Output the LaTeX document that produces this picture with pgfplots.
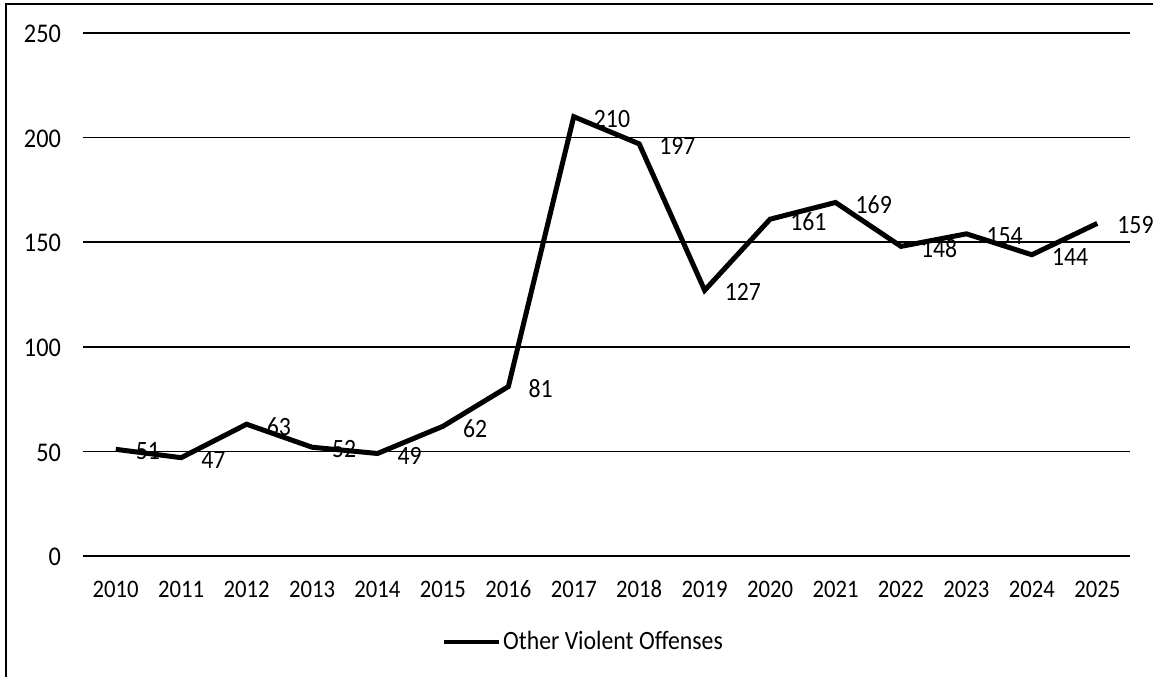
\documentclass[border=0pt]{standalone}
\usepackage{fontspec}
\setmainfont{Carlito}[FakeStretch=0.9]
\usepackage{pgfplots}
\pgfplotsset{compat=1.18}
\begin{document}
\begin{tikzpicture}
\begin{axis}[
  at={(0pt,0pt)}, anchor=south west,
  scale only axis, width=523.5pt, height=261.5pt,
  xmin=-0.5, xmax=15.5, ymin=0, ymax=250,
  ytick={0,50,100,150,200,250},
  xtick={0,...,15},
  xticklabels={2010,2011,2012,2013,2014,2015,2016,2017,2018,2019,2020,2021,2022,2023,2024,2025},
  axis line style={draw=none},
  tick style={draw=none},
  ymajorgrids,
  major grid style={black, line width=0.75pt},
  /pgf/number format/assume math mode=true,
  yticklabel style={font=\fontsize{13.5}{15}\selectfont, xshift=-7.5pt, yshift=-0.5pt},
  xticklabel style={font=\fontsize{12.6}{15}\selectfont, anchor=base, yshift=-20.5pt},
  legend style={at={(axis description cs:0.478,-0.1644)}, anchor=center, draw=none, fill=none,
    font=\fontsize{13.2}{15}\selectfont, inner sep=0pt, nodes={inner sep=1pt}},
  legend image code/.code={\draw[#1, line width=2pt] (0pt,0pt) -- (27.5pt,0pt);},
  legend cell align=left,
]
\addplot[black, line width=2.5pt, line join=miter,
  nodes near coords, point meta=explicit symbolic,
  every node near coord/.style={anchor=west, xshift=5.5pt, yshift=-1pt, font=\fontsize{13.2}{15}\selectfont, text=black}]
  table[meta=v] {
x y v
0 51 51
1 47 47
2 63 63
3 52 52
4 49 49
5 62 62
6 81 81
7 210 210
8 197 197
9 127 127
10 161 161
11 169 169
12 148 148
13 154 154
14 144 144
15 159 159
};
\addlegendentry{Other Violent Offenses}
\end{axis}
\draw[black, line width=0.8pt] (-38.5pt,-80pt) -- (-38.5pt,276pt) -- (560pt,276pt);
\pgfresetboundingbox
\path[use as bounding box] (-41.5pt,-60pt) rectangle (535pt,278pt);
\end{tikzpicture}
\end{document}
